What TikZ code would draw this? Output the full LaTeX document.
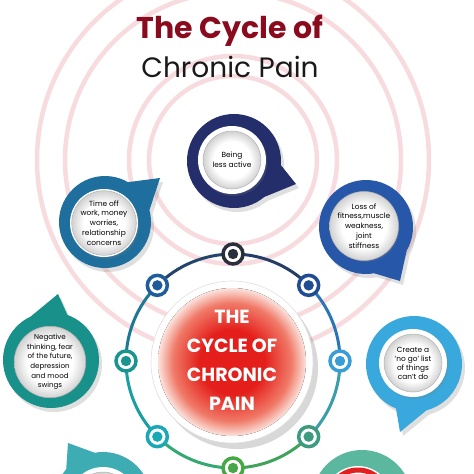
\documentclass[tikz,border=0pt]{standalone}
\usepackage{fontspec}
\setmainfont{Poppins}
\usetikzlibrary{shadows,calc}
\definecolor{ringpink}{HTML}{F7DBDE}
\definecolor{titlered}{HTML}{8A0B1D}
\definecolor{bubA}{HTML}{232E6B}
\definecolor{bubB}{HTML}{1E6E9E}
\definecolor{bubC}{HTML}{2657A8}
\definecolor{bubD}{HTML}{17918A}
\definecolor{bubE}{HTML}{38A8DD}
\definecolor{bubF}{HTML}{3EADB3}
\definecolor{bubG}{HTML}{5BB79E}
\definecolor{cA}{HTML}{2A2F3C}
\definecolor{cB}{HTML}{1F4C93}
\definecolor{cC}{HTML}{3A9ED6}
\definecolor{cD}{HTML}{3C9A7F}
\definecolor{cE}{HTML}{45A845}
\definecolor{cF}{HTML}{18A8B6}
\definecolor{cG}{HTML}{1A948F}
\definecolor{cH}{HTML}{1F5C9A}
\definecolor{corered}{HTML}{E41F1B}
\definecolor{coremid}{HTML}{F07A68}
\definecolor{coreedge}{HTML}{FBE3DD}
\definecolor{stopred}{HTML}{E02020}
\pgfdeclareradialshading{redglow}{\pgfpoint{0bp}{0bp}}{color(0bp)=(corered); color(11bp)=(corered); color(20bp)=(coremid); color(25bp)=(coreedge); color(50bp)=(coreedge)}
\pgfdeclareradialshading{silverdisk}{\pgfpoint{0bp}{0bp}}{color(0bp)=(white); color(16bp)=(white); color(25bp)=(black!18); color(50bp)=(black!18)}
\tikzset{
  ring/.style={draw=ringpink, line width=4.5},
  seg/.style={draw=#1, line width=3},
  cycnode/.style={circle, minimum size=20, inner sep=0pt, fill=white, draw=#1, line width=3.5},
  bubshadow/.style={drop shadow={opacity=0.25, shadow xshift=3pt, shadow yshift=-4pt}},
  ringshadow/.style={drop shadow={opacity=0.22, shadow xshift=1.5pt, shadow yshift=-2pt}},
  innerdisk/.style={circle, minimum size=58, inner sep=0pt, shading=silverdisk, draw=black!30, line width=0.5,
    font=\fontsize{7.4}{9.8}\selectfont, text=black, align=center},
}
\begin{document}
\begin{tikzpicture}[x=1pt,y=-1pt]
\useasboundingbox (0,0) rectangle (474,474);
\fill[white] (0,0) rectangle (474,474);
\begin{scope}
\clip (0,0) rectangle (474,474);
% background ripples
\coordinate (rc) at (233,160);
\foreach \r in {84,104,168,196} \draw[ring] (rc) circle[radius=\r];

% title
\node[anchor=base, font=\bfseries\fontsize{30}{30}\selectfont, text=titlered] (title) at (230,38) {The Cycle of};
\node[anchor=base, font=\fontsize{28}{28}\selectfont, text=black!90] (subtitle) at (230,77) {Chronic Pain};

% cycle ring
\coordinate (cc) at (233,361);
\foreach \k in {0,...,7} \coordinate (p\k) at ($(cc)+({-90+45*\k}:107)$);
\draw[seg=cA!50!cB] (p0) arc[start angle=-90, end angle=-45, radius=107];
\draw[seg=cB!50!cC] (p1) arc[start angle=-45, end angle=0, radius=107];
\draw[seg=cC!50!cD] (p2) arc[start angle=0, end angle=45, radius=107];
\draw[seg=cD!40!cE] (p3) arc[start angle=45, end angle=90, radius=107];
\draw[seg=cE!60!cF] (p4) arc[start angle=90, end angle=135, radius=107];
\draw[seg=cF!50!cG] (p5) arc[start angle=135, end angle=180, radius=107];
\draw[seg=cG!50!cH] (p6) arc[start angle=180, end angle=225, radius=107];
\draw[seg=cH!50!cA] (p7) arc[start angle=225, end angle=270, radius=107];
\foreach \k/\c in {0/cA,1/cB,2/cC,3/cD,4/cE,5/cF,6/cG,7/cH}{
  \node[cycnode=\c] (n\k) at (p\k) {};
  \fill[\c] (n\k.center) circle[radius=5.2];
}

% bubble 1
\coordinate (b1) at (234,161);
\coordinate (tip1) at (296,184);
\fill[bubA, bubshadow] ([shift={(5:47)}]b1) -- (tip1) -- ([shift={(50:47)}]b1) arc[start angle=50, end angle=365, radius=47] -- cycle;
\fill[white, ringshadow] ($(b1)+(-2,-1)$) circle[radius=34];
\node[innerdisk] (t1) at ($(b1)+(-2,-1)$) {Being\\less active};

% bubble 2
\coordinate (b2) at (105,222);
\coordinate (tip2) at (160,178);
\fill[bubB, bubshadow] ([shift={(-60:46)}]b2) -- (tip2) -- ([shift={(-15:46)}]b2) arc[start angle=-15, end angle=300, radius=46] -- cycle;
\fill[white, ringshadow] ($(b2)+(-1,1)$) circle[radius=34];
\node[innerdisk] (t2) at ($(b2)+(-1,1)$) {Time off\\work, money\\worries,\\relationship\\concerns};

% bubble 3
\coordinate (b3) at (366,227);
\coordinate (tip3) at (400,281);
\fill[bubC, bubshadow] ([shift={(30:47)}]b3) -- (tip3) -- ([shift={(80:47)}]b3) arc[start angle=80, end angle=390, radius=47] -- cycle;
\fill[white, ringshadow] ($(b3)+(-2,-1)$) circle[radius=34];
\node[innerdisk] (t3) at ($(b3)+(-2,-1)$) {Loss of\\fitness,muscle\\weakness,\\joint\\stiffness};

% bubble 4
\coordinate (b4) at (51,360);
\coordinate (tip4) at (58,294);
\fill[bubD, bubshadow] ([shift={(-115:48)}]b4) -- (tip4) -- ([shift={(-70:48)}]b4) arc[start angle=-70, end angle=245, radius=48] -- cycle;
\fill[white, ringshadow] ($(b4)+(-1,2)$) circle[radius=34];
\node[innerdisk, font=\fontsize{7.1}{9.6}\selectfont] (t4) at ($(b4)+(-1,2)$) {Negative\\thinking, fear\\of the future,\\depression\\and mood\\swings};

% bubble 5
\coordinate (b5) at (414,364);
\coordinate (tip5) at (400,432);
\fill[bubE, bubshadow] ([shift={(75:48)}]b5) -- (tip5) -- ([shift={(112:48)}]b5) arc[start angle=112, end angle=435, radius=48] -- cycle;
\fill[white, ringshadow] ($(b5)+(-1,-1)$) circle[radius=34];
\node[innerdisk, font=\fontsize{7.4}{9}\selectfont] (t5) at ($(b5)+(-1,-1)$) {Create a\\‘no go’ list\\of things\\can’t do};

% bubble 6 (partial)
\coordinate (b6) at (103,500);
\coordinate (tip6) at (68,443);
\fill[bubF, bubshadow] ([shift={(-140:48)}]b6) -- (tip6) -- ([shift={(-100:48)}]b6) arc[start angle=-100, end angle=220, radius=48] -- cycle;
\fill[white, ringshadow] ($(b6)+(0,1)$) circle[radius=34];
\node[innerdisk] (t6) at ($(b6)+(0,1)$) {};

% bubble 7 (partial)
\coordinate (b7) at (362,500);
\fill[bubG, bubshadow] (b7) circle[radius=50];
\fill[white, ringshadow] ($(b7)+(-4,0)$) circle[radius=34];
\draw[stopred, line width=5] ($(b7)+(-4,0)$) circle[radius=30];

% central circle
\node[circle, minimum size=162, inner sep=0pt, fill=white, draw=black!12, line width=0.6,
  drop shadow={opacity=0.3, shadow xshift=5pt, shadow yshift=-6pt}] (core) at (232,362) {};
\fill[shading=redglow] (core.center) circle[radius=74];
\node[text=white, font=\bfseries\fontsize{19}{29}\selectfont, align=center] (coretext) at (232,360) {THE\\CYCLE OF\\CHRONIC\\PAIN};
\end{scope}
\end{tikzpicture}
\end{document}
